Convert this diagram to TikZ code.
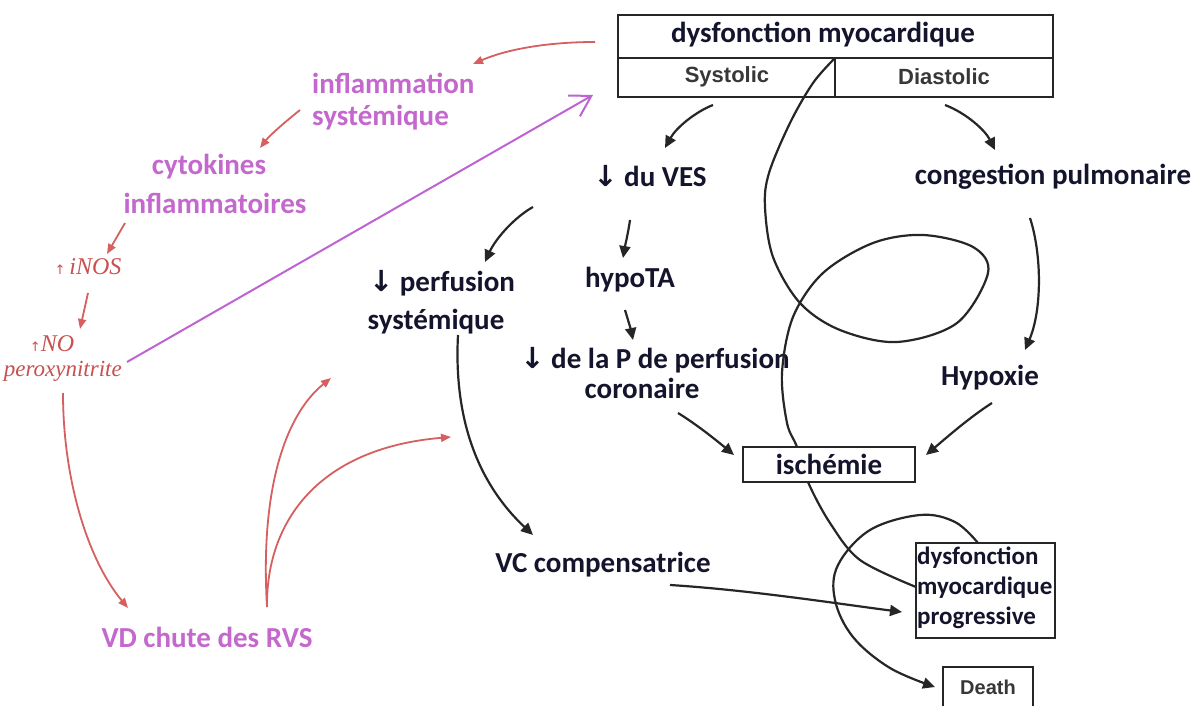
\documentclass[tikz,border=0pt]{standalone}
\usepackage{fontspec}
\setmainfont{Carlito}
\newfontfamily\hv{Liberation Sans}
\newfontfamily\tms{Liberation Serif}
\newfontfamily\dv{DejaVu Sans}
\usetikzlibrary{arrows.meta}
\definecolor{ink}{RGB}{20,20,45}
\definecolor{pinktxt}{RGB}{196,104,206}
\definecolor{purpline}{RGB}{190,100,210}
\definecolor{redline}{RGB}{214,96,96}
\definecolor{redtxt}{RGB}{200,80,80}
\definecolor{graytxt}{RGB}{55,55,55}
\newcommand{\dn}{{\dv\bfseries ↓}}
\newcommand{\up}{{\dv\fontsize{13}{13}\selectfont ↑}}
\begin{document}
\begin{tikzpicture}[x=1pt,y=-1pt,
  txt/.style={font=\fontsize{29}{34}\selectfont\bfseries, text=ink, inner sep=0pt},
  pinkt/.style={font=\fontsize{29}{34}\selectfont\bfseries, text=pinktxt, inner sep=0pt},
  redit/.style={font=\tms\itshape\fontsize{24}{27}\selectfont, text=redtxt, inner sep=0pt},
  grayt/.style={font=\hv\bfseries\fontsize{22}{25}\selectfont, text=graytxt, inner sep=0pt},
  arr/.style={draw=black!85, line width=2.2pt, -{Triangle[length=12pt,width=11pt]}},
  rarr/.style={draw=redline, line width=1.8pt, -{Triangle[length=10pt,width=8pt]}},
  parr/.style={draw=purpline, line width=2pt, -{Straight Barb[length=20pt,width=24pt,line width=2pt]}},
  boxline/.style={draw=black!85, line width=2.2pt},
  wbox/.style={draw=black!85, line width=2.2pt, fill=white, inner sep=0pt}]
\useasboundingbox (0,0) rectangle (1203,706);
\clip (0,0) rectangle (1203,706);
\fill[white] (0,0) rectangle (1203,706);

% ---------- top box ----------
\node[boxline, minimum width=435pt, minimum height=43pt, inner sep=0pt] (topbox) at (835.5,36.5) {};
\node[boxline, minimum width=217pt, minimum height=39pt, inner sep=0pt] (sysbox) at (726.5,77.5) {};
\node[boxline, minimum width=218pt, minimum height=39pt, inner sep=0pt] (diabox) at (944,77.5) {};
\node[txt] (title) at (823,35) {dysfonction myocardique};
\node[grayt] (sys) at (727,77) {Systolic};
\node[grayt] (dia) at (944,77) {Diastolic};

% ---------- black text nodes ----------
\node[txt] (ves) at (650,176) {\dn\ du VES};
\node[txt] (perf1) at (442,283) {\dn\ perfusion};
\node[txt] (perf2) at (436,322) {systémique};
\node[txt] (hypota) at (630,280) {hypoTA};
\node[txt] (pp1) at (655,360) {\dn\ de la P de perfusion};
\node[txt] (pp2) at (642,388) {coronaire};
\node[txt] (cong) at (1053,177) {congestion pulmonaire};
\node[txt] (hypox) at (990,378) {Hypoxie};
\node[txt] (vc) at (603,565) {VC compensatrice};

% ---------- spiral ----------
\coordinate (spA) at (sysbox.north east);
\coordinate (spB) at (916,587);
\draw[black!85, line width=2.2pt] plot[smooth, tension=0.55] coordinates {
 (835,58) (813,83) (790,123) (769,173) (765,207) (773,257) (800,303) (840,330)
 (897,342) (957,323) (988,273) (973,247) (923,235) (873,243) (823,273) (793,317)
 (782,373) (787,423) (797,447) (808,482) (830,523) (860,560) (916,587)};

% arc to death
\draw[arr] plot[smooth, tension=0.6] coordinates {
 (978,543) (955,522) (920,515) (870,530) (838,565) (835,600) (853,637) (890,668) (935,687)};

% ---------- boxes ----------
\node[wbox, txt, minimum width=172pt, minimum height=35pt] (isch) at (829,464.5) {ischémie};
\node[wbox, minimum width=139pt, minimum height=95pt] (prog) at (985.5,590.5) {};
\node[font=\fontsize{25}{30}\selectfont\bfseries, text=ink, inner sep=0pt, align=left, anchor=west] (progt) at (917,588) {dysfonction\\myocardique\\progressive};
\node[wbox, minimum width=90pt, minimum height=41pt] (death) at (988,687.5) {};
\node[grayt, font=\hv\bfseries\fontsize{20}{24}\selectfont] (deatht) at (988,687) {Death};

% ---------- black arrows ----------
\coordinate (a1s) at (713,105); \coordinate (a1e) at (665,148);
\draw[arr] (a1s) .. controls (695,112) and (676,128) .. (a1e);
\coordinate (a2s) at (533,207); \coordinate (a2e) at (485,262);
\draw[arr] (a2s) .. controls (515,217) and (496,238) .. (a2e);
\coordinate (a3s) at (630,220); \coordinate (a3e) at (623,258);
\draw[arr] (a3s) .. controls (628,234) and (625,246) .. (a3e);
\coordinate (a4s) at (625,310); \coordinate (a4e) at (633,340);
\draw[arr] (a4s) .. controls (628,320) and (631,330) .. (a4e);
\coordinate (a5s) at (678,413); \coordinate (a5e) at (734,455);
\draw[arr] (a5s) .. controls (696,424) and (716,440) .. (a5e);
\coordinate (a6s) at (945,105); \coordinate (a6e) at (995,150);
\draw[arr] (a6s) .. controls (966,113) and (985,130) .. (a6e);
\coordinate (a7s) at (1030,218); \coordinate (a7e) at (1025,350);
\draw[arr] (a7s) .. controls (1042,255) and (1042,310) .. (a7e);
\coordinate (a8s) at (992,403); \coordinate (a8e) at (926,455);
\draw[arr] (a8s) .. controls (970,417) and (946,438) .. (a8e);
\coordinate (a9s) at (458,335); \coordinate (a9e) at (533,535);
\draw[arr] (a9s) .. controls (453,430) and (485,490) .. (a9e);
\coordinate (a10s) at (670,585); \coordinate (a10e) at (902,612);
\draw[arr] (a10s) .. controls (750,590) and (840,604) .. (a10e);

% ---------- pink / red part ----------
\node[pinkt, anchor=west] (infl1) at (312,83) {inflammation};
\node[pinkt, anchor=west] (infl2) at (312,118) {systémique};
\node[pinkt] (cyt1) at (209,167) {cytokines};
\node[pinkt] (cyt2) at (215,203) {inflammatoires};
\node[pinkt] (vd) at (207,637) {VD chute des RVS};
\node[redit] (inos) at (88,267) {\up\,iNOS};
\node[redit] (no) at (52,344) {\up NO};
\node[redit, anchor=east, font=\tms\itshape\fontsize{23}{26}\selectfont] (perox) at (122,371) {peroxynitrite};

\coordinate (r1s) at (595,42); \coordinate (r1e) at (473,64);
\draw[rarr] (r1s) .. controls (545,42) and (505,50) .. (r1e);
\coordinate (r2s) at (300,110); \coordinate (r2e) at (260,148);
\draw[rarr] (r2s) .. controls (285,122) and (270,135) .. (r2e);
\coordinate (r3s) at (125,223); \coordinate (r3e) at (107,254);
\draw[rarr] (r3s) -- (r3e);
\coordinate (r4s) at (88,293); \coordinate (r4e) at (80,329);
\draw[rarr] (r4s) -- (r4e);
\coordinate (r5s) at (63,393); \coordinate (r5e) at (128,608);
\draw[rarr] (r5s) .. controls (63,480) and (88,560) .. (r5e);
\coordinate (r6s) at (267,607); \coordinate (r6e) at (331,378);
\draw[rarr] (r6s) .. controls (260,490) and (285,415) .. (r6e);
\coordinate (r7e) at (451,437);
\draw[rarr] (r6s) .. controls (266,520) and (320,448) .. (r7e);

\coordinate (ps) at (127,362); \coordinate (pe) at (593,95);
\draw[parr] (ps) -- (pe);
\end{tikzpicture}
\end{document}
